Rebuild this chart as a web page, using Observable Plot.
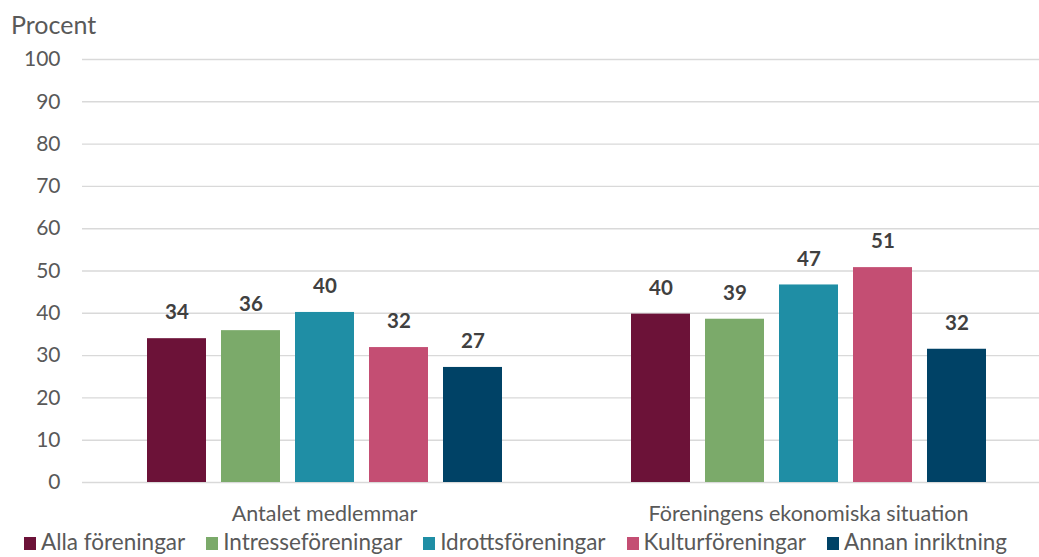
<!DOCTYPE html>
<html>
<head>
<meta charset="utf-8">
<script src="https://cdn.jsdelivr.net/npm/d3@7"></script>
<script src="https://cdn.jsdelivr.net/npm/@observablehq/plot@0.6"></script>
<style>
  html, body { margin: 0; padding: 0; background: #fff; }
  body { width: 1039px; height: 557px; overflow: hidden; font-family: Lato, sans-serif; }
  #title { height: 40px; box-sizing: border-box; padding: 12px 0 0 11px; font-size: 25px; line-height: 1; color: #595959; }
  #chart svg { display: block; }
  #legend { display: flex; align-items: center; margin-top: -5px; padding-left: 24px; font-size: 22.5px; line-height: 22px; color: #595959; white-space: nowrap; }
  #legend .item { display: flex; align-items: center; margin-right: 21px; }
  #legend .sw { width: 12px; height: 13px; margin-right: 5px; margin-top: 3px; }
</style>
</head>
<body>
<div id="title">Procent</div>
<div id="chart"></div>
<div id="legend"></div>
<script>
const groups = ["Antalet medlemmar", "Föreningens ekonomiska situation"];
const series = ["Alla föreningar", "Intresseföreningar", "Idrottsföreningar", "Kulturföreningar", "Annan inriktning"];
const valuesMedlemmar = [34.0, 35.9, 40.2, 31.9, 27.2];
const valuesEkonomi = [39.8, 38.6, 46.7, 50.8, 31.5];
const yTicks = [0, 10, 20, 30, 40, 50, 60, 70, 80, 90, 100];
const colors = ["#6C1238", "#7BAA6A", "#1F8EA5", "#C44E73", "#004266"];

const data = [];
[valuesMedlemmar, valuesEkonomi].forEach((vals, gi) => {
  vals.forEach((v, si) => data.push({group: groups[gi], series: series[si], value: v}));
});

const chart = Plot.plot({
  width: 1039,
  height: 496,
  marginLeft: 82,
  marginRight: -11,
  marginTop: 19,
  marginBottom: 54,
  style: {fontFamily: "Lato, sans-serif", fontSize: "21px", color: "#595959", background: "#fff"},
  fx: {domain: groups, padding: 0, label: null, axis: null},
  x: {domain: series, paddingInner: 0.208, paddingOuter: 0.852, axis: null},
  y: {domain: [0, 100], ticks: yTicks, label: null},
  color: {domain: series, range: colors},
  marks: [
    Plot.gridY(yTicks, {stroke: "#d9d9d9", strokeOpacity: 1, strokeWidth: 1.4}),
    Plot.axisY(yTicks, {tickSize: 0, tickPadding: 22, fill: "#595959", fontSize: 21, label: null}),
    Plot.axisFx({anchor: "bottom", tickSize: 0, tickPadding: 23, fill: "#595959", fontSize: 21.5, label: null}),
    Plot.barY(data, {fx: "group", x: "series", y: "value", fill: "series"}),
    Plot.text(data, {fx: "group", x: "series", y: "value", text: d => String(Math.round(d.value)),
      dy: -26, fontWeight: "bold", fontSize: 20.5, fill: "#404040"})
  ]
});
document.getElementById("chart").appendChild(chart);

const legend = document.getElementById("legend");
series.forEach((s, i) => {
  const item = document.createElement("div");
  item.className = "item";
  const sw = document.createElement("span");
  sw.className = "sw";
  sw.style.background = colors[i];
  const label = document.createElement("span");
  label.textContent = s;
  item.appendChild(sw);
  item.appendChild(label);
  legend.appendChild(item);
});
</script>
</body>
</html>
